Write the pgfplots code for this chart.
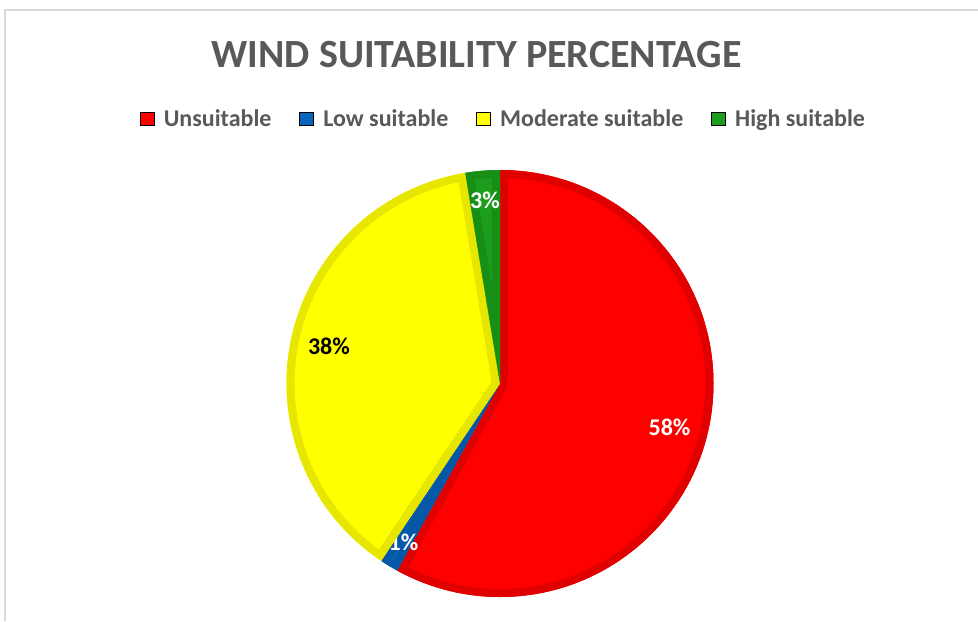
\documentclass[border=0pt]{standalone}
\usepackage{pgfplots}
\usepackage{pgfplotstable}
\pgfplotsset{compat=1.18}
\usepackage{fontspec}
\setmainfont{Carlito}
\definecolor{cRed}{HTML}{FF0000}
\definecolor{cRedD}{HTML}{E00000}
\definecolor{cBlue}{HTML}{0866BA}
\definecolor{cBlueD}{HTML}{0558A8}
\definecolor{cYel}{HTML}{FFFF00}
\definecolor{cYelD}{HTML}{E6E600}
\definecolor{cGrn}{HTML}{1C9E1C}
\definecolor{cGrnD}{HTML}{178F17}
\definecolor{txt}{HTML}{595959}
\definecolor{frame}{HTML}{D9D9D9}

\pgfplotstableread{
name value label col dcol tcol r
Unsuitable 58.0 58 cRed cRedD white 0.82
Low 1.4 1 cBlue cBlueD white 0.87
Moderate 38.0 38 cYel cYelD black 0.82
High 2.6 3 cGrn cGrnD white 0.86
}\pietable

\tikzset{pielabel/.style={font=\bfseries\fontsize{12}{14}\selectfont, inner sep=0pt}}

\begin{document}
\begin{tikzpicture}
\useasboundingbox (0,0) rectangle (489pt,310.5pt);
\fill[white] (0,0) rectangle (489pt,310.5pt);
\draw[frame, line width=1pt] (2.5pt,0) -- (2.5pt,305.5pt) -- (489pt,305.5pt);
\begin{axis}[
  at={(250pt,118.75pt)}, anchor=center,
  scale only axis, width=213.5pt, height=213.5pt,
  xmin=-1, xmax=1, ymin=-1, ymax=1,
  hide axis, clip=false,
  title={WIND SUITABILITY PERCENTAGE},
  title style={at={(0.445,1.243)}, anchor=center, font=\bfseries\fontsize{20}{24}\selectfont, text=txt},
  legend columns=4,
  legend style={at={(0.5105,1.119)}, anchor=center, draw=none, fill=none,
    font=\bfseries\fontsize{12}{14}\selectfont, text=txt,
    /tikz/every even column/.append style={column sep=12pt}},
  legend image code/.code={\fill[#1] (0pt,-3.2pt) rectangle (7pt,3.6pt); \path (9.5pt,0pt);},
]
\pgfmathsetmacro\curangle{90}
\pgfplotsforeachungrouped \i in {0,...,3}{%
  \pgfplotstablegetelem{\i}{value}\of\pietable \let\val\pgfplotsretval
  \pgfplotstablegetelem{\i}{label}\of\pietable \let\lab\pgfplotsretval
  \pgfplotstablegetelem{\i}{col}\of\pietable \let\fc\pgfplotsretval
  \pgfplotstablegetelem{\i}{dcol}\of\pietable \let\dc\pgfplotsretval
  \pgfplotstablegetelem{\i}{tcol}\of\pietable \let\tc\pgfplotsretval
  \pgfplotstablegetelem{\i}{r}\of\pietable \let\lr\pgfplotsretval
  \pgfmathsetmacro\endangle{\curangle-3.6*\val}
  \pgfmathsetmacro\midangle{(\curangle+\endangle)/2}
  \pgfmathsetmacro\xa{cos(\curangle)}
  \pgfmathsetmacro\ya{sin(\curangle)}
  \pgfmathsetmacro\xl{\lr*cos(\midangle)}
  \pgfmathsetmacro\yl{\lr*sin(\midangle)}
  \edef\temp{%
    \noexpand\begin{scope}
    \noexpand\clip (axis cs:0,0) -- (axis cs:\xa,\ya) arc[start angle=\curangle, end angle=\endangle, radius=106.75pt] -- cycle;
    \noexpand\fill[\fc] (axis cs:-1.1,-1.1) rectangle (axis cs:1.1,1.1);
    \noexpand\draw[\dc, line width=8pt, line join=round] (axis cs:0,0) -- (axis cs:\xa,\ya) arc[start angle=\curangle, end angle=\endangle, radius=106.75pt] -- cycle;
    \noexpand\end{scope}
    \noexpand\node[pielabel, text=\tc] at (axis cs:\xl,\yl) {\lab\noexpand\%};
  }\temp
  \global\let\curangle\endangle
}
\addlegendimage{fill=cRed}
\addlegendentry{Unsuitable}
\addlegendimage{fill=cBlue}
\addlegendentry{Low suitable}
\addlegendimage{fill=cYel}
\addlegendentry{Moderate suitable}
\addlegendimage{fill=cGrn}
\addlegendentry{High suitable}
\end{axis}
\end{tikzpicture}
\end{document}
